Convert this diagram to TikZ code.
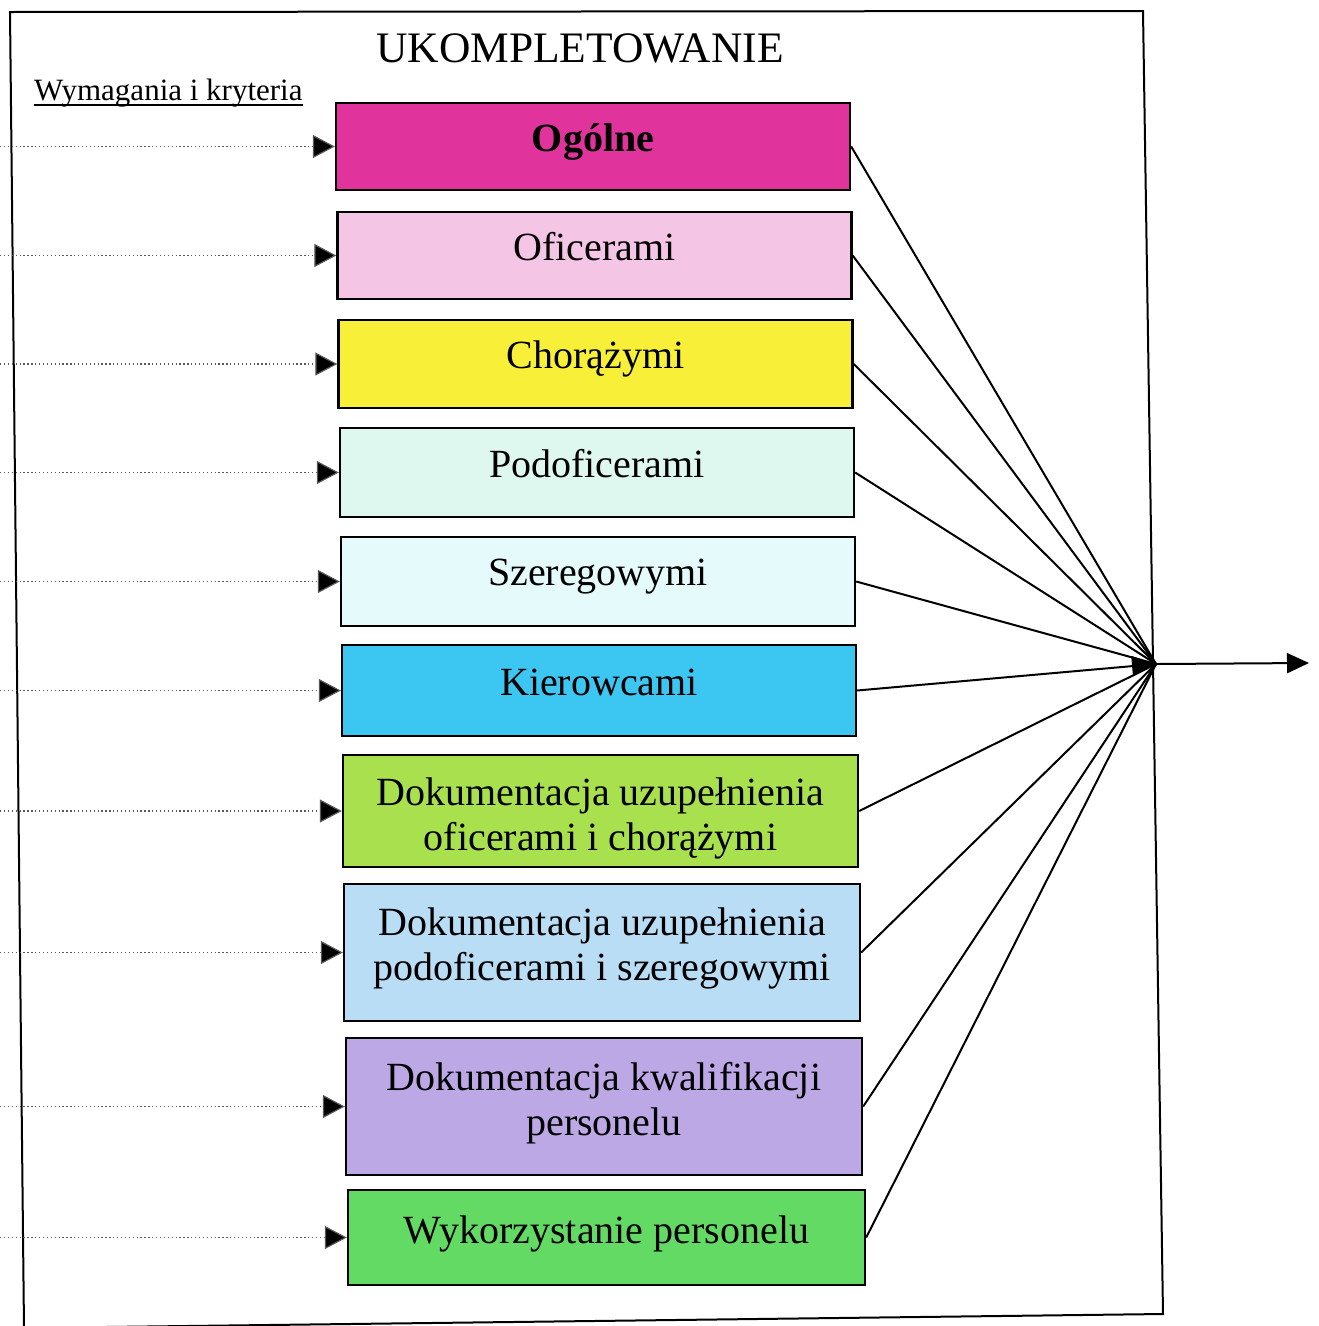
\documentclass[tikz,border=0pt]{standalone}
\usepackage{fontspec}
\setmainfont{Liberation Serif}
\usetikzlibrary{arrows.meta,calc}

\definecolor{cOgolne}{HTML}{E0339B}
\definecolor{cOficer}{HTML}{F5C5E6}
\definecolor{cChoraz}{HTML}{F8F038}
\definecolor{cPodof}{HTML}{DFF8EF}
\definecolor{cSzer}{HTML}{E4FAFB}
\definecolor{cKier}{HTML}{3CC6F2}
\definecolor{cDokA}{HTML}{A9E14E}
\definecolor{cDokB}{HTML}{B9DDF4}
\definecolor{cDokC}{HTML}{BDA8E6}
\definecolor{cWyk}{HTML}{63DA63}

\tikzset{
  catbox/.style={draw=black, line width=2.4pt, minimum width=514pt, inner sep=0pt},
  cattext/.style={font=\fontsize{40}{45}\selectfont, align=center, inner sep=0pt, anchor=base},
  feed/.style={line width=1.2pt, draw=black!65, dash pattern=on 1.3pt off 2.6pt,
    -{Triangle[length=22pt,width=23pt,fill=black]}},
  merge/.style={line width=2pt, draw=black},
  frame/.style={line width=2pt, draw=black}
}

\begin{document}
\begin{tikzpicture}[x=1pt,y=-1pt]
\useasboundingbox (0,0) rectangle (1319,1326);
\fill[white] (0,0) rectangle (1319,1326);

% outer frame
\draw[frame] (10,12) -- (1143,11) -- (1163,1314) -- (24,1328) -- cycle;

% headings
\node[font=\fontsize{43.5}{50}\selectfont, anchor=base, inner sep=0pt] (title) at (580,62) {UKOMPLETOWANIE};
\node[font=\fontsize{31}{36}\selectfont, anchor=base west, inner sep=0pt] (req) at (34,100) {Wymagania i kryteria};
\draw[line width=1.6pt] ([yshift=-5pt]req.base west) -- ([yshift=-5pt]req.base east);

% category boxes
\node[catbox, fill=cOgolne, minimum height=87pt]  (b1)  at (593,146.5) {};
\node[catbox, fill=cOficer, minimum height=87pt]  (b2)  at (594.5,255.5) {};
\node[catbox, fill=cChoraz, minimum height=88pt]  (b3)  at (595.5,364) {};
\node[catbox, fill=cPodof,  minimum height=89pt]  (b4)  at (597,472.5) {};
\node[catbox, fill=cSzer,   minimum height=89pt]  (b5)  at (598,581.5) {};
\node[catbox, fill=cKier,   minimum height=91pt]  (b6)  at (599,690.5) {};
\node[catbox, fill=cDokA,   minimum height=112pt, minimum width=515pt] (b7)  at (600.5,811) {};
\node[catbox, fill=cDokB,   minimum height=137pt, minimum width=516pt] (b8)  at (602,952.5) {};
\node[catbox, fill=cDokC,   minimum height=137pt, minimum width=516pt] (b9)  at (604,1106.5) {};
\node[catbox, fill=cWyk,    minimum height=95pt,  minimum width=517pt] (b10) at (606.5,1237.5) {};

% box texts (base anchor = baseline of the last line)
\node[cattext] (t1)  at (b1.center |- 0,151)  {\textbf{Ogólne}};
\node[cattext] (t2)  at (b2.center |- 0,260)  {Oficerami};
\node[cattext] (t3)  at (b3.center |- 0,368)  {Chorążymi};
\node[cattext] (t4)  at (b4.center |- 0,477)  {Podoficerami};
\node[cattext] (t5)  at (b5.center |- 0,585)  {Szeregowymi};
\node[cattext] (t6)  at (b6.center |- 0,695)  {Kierowcami};
\node[cattext] (t7)  at (b7.center |- 0,850)  {Dokumentacja uzupełnienia\\oficerami i chorążymi};
\node[cattext] (t8)  at (b8.center |- 0,980)  {Dokumentacja uzupełnienia\\podoficerami i szeregowymi};
\node[cattext] (t9)  at (b9.center |- 0,1135) {Dokumentacja kwalifikacji\\personelu};
\node[cattext] (t10) at (b10.center |- 0,1243) {Wykorzystanie personelu};

% incoming dotted feeds
\foreach \i in {1,...,10} {
  \coordinate (in\i) at (0,0 |- b\i.west);
  \draw[feed] (in\i) -- (b\i.west);
}

% merge point and output
\coordinate (hub) at (1156,664);
\coordinate (out) at (1309,663);
\foreach \i in {1,2,3,4,5,7,8,9,10} {
  \draw[merge] (b\i.east) -- (hub);
}
\draw[merge, -{Triangle[length=24pt,width=20pt]}] (b6.east) -- (hub);
\draw[merge, -{Triangle[length=22pt,width=20pt]}] (hub) -- (out);
\end{tikzpicture}
\end{document}
